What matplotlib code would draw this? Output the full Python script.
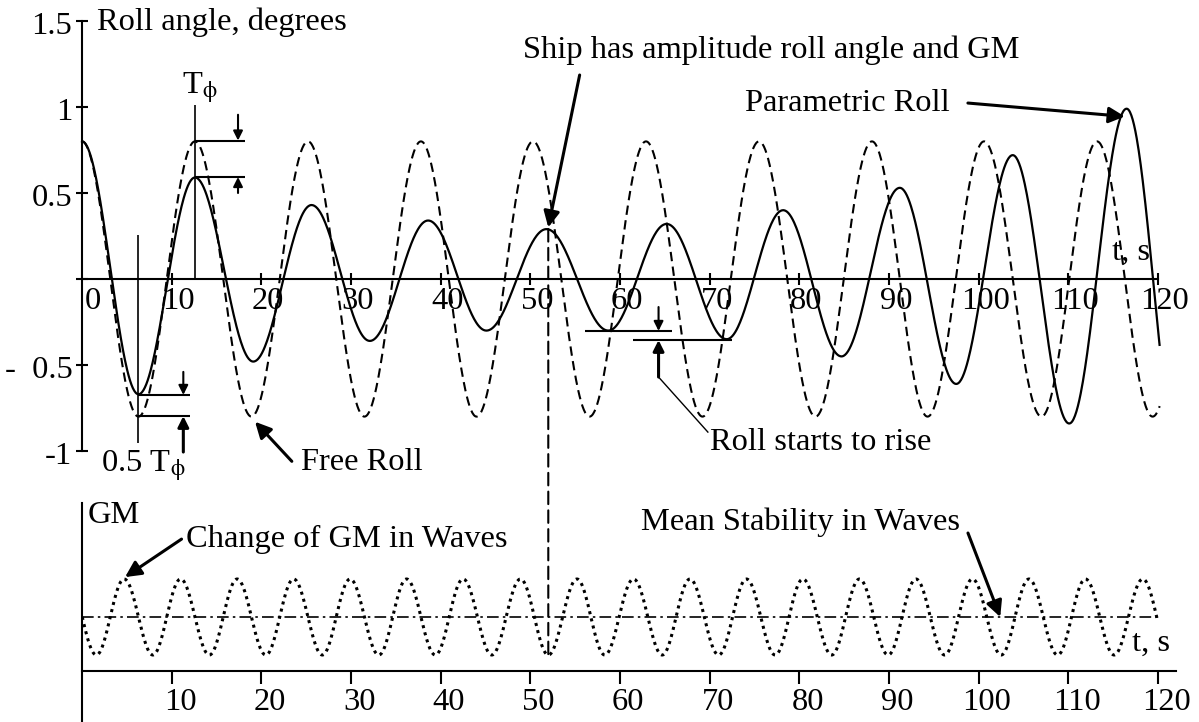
import numpy as np
import matplotlib
matplotlib.use("Agg")
import matplotlib.pyplot as plt
from matplotlib.patches import ConnectionPatch

plt.rcParams['font.family'] = ['Liberation Serif', 'DejaVu Serif']
plt.rcParams['mathtext.fontset'] = 'stix'

# ---------------- data ----------------
# parametric roll: times / values of successive extrema (last one lies beyond the drawn end)
roll_ext_t = [0.0, 6.3, 12.6, 19.1, 25.6, 32.1, 38.6, 45.1, 51.8, 58.7, 65.2,
              71.9, 78.2, 84.7, 91.2, 97.5, 103.8, 110.1, 116.5, 122.5]
roll_ext_v = [0.80, -0.67, 0.59, -0.48, 0.43, -0.36, 0.34, -0.30, 0.29, -0.30, 0.32,
              -0.35, 0.40, -0.45, 0.53, -0.61, 0.72, -0.84, 0.99, -1.05]
roll_t_end = 120.2

# free roll extrema
free_ext_t = [0.0, 6.3, 12.6, 18.9, 25.2, 31.5, 37.8, 44.0, 50.3, 56.6, 62.9,
              69.2, 75.5, 81.8, 88.1, 94.3, 100.6, 107.0, 113.2, 119.4, 125.7]
free_ext_v = [0.8, -0.8, 0.8, -0.8, 0.8, -0.8, 0.8, -0.8, 0.8, -0.8, 0.8,
              -0.8, 0.8, -0.8, 0.8, -0.8, 0.8, -0.8, 0.8, -0.8, 0.8]
free_t_end = 120.2

# GM in waves extrema (relative to mean, arbitrary units)
gm_ext_t = [-1.55, 1.6, 4.7, 7.9, 11.0, 14.2, 17.3, 20.5, 23.6, 26.8, 29.9, 33.1,
            36.2, 39.4, 42.5, 45.7, 48.9, 52.0, 55.2, 58.3, 61.5, 64.7, 67.8, 71.0,
            74.1, 77.3, 80.4, 83.6, 86.7, 89.9, 93.0, 96.2, 99.3, 102.5, 105.6,
            108.8, 111.9, 115.1, 118.3, 121.4]
gm_ext_v = [1, -1, 1, -1, 1, -1, 1, -1, 1, -1, 1, -1, 1, -1, 1, -1, 1, -1, 1, -1,
            1, -1, 1, -1, 1, -1, 1, -1, 1, -1, 1, -1, 1, -1, 1, -1, 1, -1, 1, -1]
gm_mean = 0.0
gm_t_end = 120.0

event_t = 52.0          # instant marked by the dashed vertical line
event_idx = 8           # roll extremum at that instant

x_ticks = [10, 20, 30, 40, 50, 60, 70, 80, 90, 100, 110, 120]
x_tick_labels_top = ['0', '10', '20', '30', '40', '50', '60', '70', '80', '90', '100', '110', '120']
x_tick_pos_top = [0, 10, 20, 30, 40, 50, 60, 70, 80, 90, 100, 110, 120]
y_ticks = [-1, -0.5, 0, 0.5, 1, 1.5]
y_tick_labels = ['-1', '-  0.5', '', '0.5', '1', '1.5']


def shaped(ext_t, ext_v, t0, t1, n=80):
    ts, vs = [], []
    for i in range(len(ext_t) - 1):
        s = np.linspace(0, 1, n, endpoint=False)
        ts.append(ext_t[i] + (ext_t[i + 1] - ext_t[i]) * s)
        vs.append(ext_v[i] + (ext_v[i + 1] - ext_v[i]) * (1 - np.cos(np.pi * s)) / 2)
    t = np.concatenate(ts)
    v = np.concatenate(vs)
    m = (t >= t0) & (t <= t1)
    return t[m], v[m]


W, H = 1199, 722
fig = plt.figure(figsize=(W / 100, H / 100), dpi=100)
FS = 23.4
LW = 1.5
PHI = r'$_{\mathrm{\phi}}$'

# ---------------- top panel ----------------
ax1 = fig.add_axes([82 / W, 271 / H, 1076 / W, 430 / H])
ax1.set_xlim(0, 120)
ax1.set_ylim(-1, 1.5)
for s in ['top', 'right']:
    ax1.spines[s].set_visible(False)
ax1.spines['bottom'].set_position(('data', 0))
ax1.spines['bottom'].set_linewidth(LW)
ax1.spines['left'].set_linewidth(LW)
ax1.set_xticks(x_ticks)
ax1.set_yticks(y_ticks)
ax1.tick_params(direction='inout', length=9, width=LW, labelbottom=False, labelleft=False)
ax1.patch.set_visible(False)

for xp, lab in zip(x_tick_pos_top, x_tick_labels_top):
    dx = 8 if xp == 0 else 5
    ax1.annotate(lab, (xp, 0), xytext=(dx, -16), textcoords='offset points',
                 ha='center', va='center', fontsize=FS)
for yp, lab in zip(y_ticks, y_tick_labels):
    if lab:
        ax1.annotate(lab, (0, yp), xytext=(-7, -4), textcoords='offset points',
                     ha='right', va='center', fontsize=FS)

tf, vf = shaped(free_ext_t, free_ext_v, 0, free_t_end)
ax1.plot(tf, vf, color='black', lw=1.5, ls=(0, (4.5, 2.6)), clip_on=False)
tr, vr = shaped(roll_ext_t, roll_ext_v, 0, roll_t_end)
ax1.plot(tr, vr, color='black', lw=1.6, clip_on=False)

ax1.text(1.7, 1.494, 'Roll angle, degrees', fontsize=FS, ha='left', va='center')

arrow_small = dict(arrowstyle='-|>', color='black', lw=1.5, mutation_scale=14,
                   shrinkA=0, shrinkB=0)
arrow_big = dict(arrowstyle='-|>', color='black', lw=2.2, mutation_scale=24,
                 shrinkA=0, shrinkB=0)

# T_phi marks
ax1.text(11.2, 1.11, 'T' + PHI, fontsize=FS, ha='left', va='center')
ax1.vlines(12.6, 0, 1.01, color='black', lw=1.2)
ax1.hlines([0.805, 0.593], 12.6, 18.2, color='black', lw=1.5)
ax1.annotate('', xy=(17.4, 0.805), xytext=(17.4, 0.955), arrowprops=arrow_small)
ax1.annotate('', xy=(17.4, 0.593), xytext=(17.4, 0.50), arrowprops=arrow_small)

# 0.5 T_phi marks
ax1.vlines(6.3, -0.953, 0.256, color='black', lw=1.2)
ax1.hlines([-0.674, -0.797], 6.3, 12.0, color='black', lw=1.5)
ax1.annotate('', xy=(11.3, -0.674), xytext=(11.3, -0.54), arrowprops=arrow_small)
ax1.annotate('', xy=(11.3, -0.797), xytext=(11.3, -1.006),
             arrowprops=dict(arrowstyle='-|>', color='black', lw=2.2, mutation_scale=16,
                             shrinkA=0, shrinkB=0))
ax1.text(2.1, -1.085, '0.5 T' + PHI, fontsize=FS, ha='left', va='center')

# Free roll
ax1.text(24.4, -1.064, 'Free Roll', fontsize=FS, ha='left', va='center')
ax1.annotate('', xy=(19.3, -0.83), xytext=(23.4, -1.06), arrowprops=arrow_big)

# Ship has amplitude roll angle and GM
ax1.text(49.2, 1.331, 'Ship has amplitude roll angle and GM', fontsize=FS,
         ha='left', va='center')
ax1.annotate('', xy=(roll_ext_t[event_idx] + 0.2, roll_ext_v[event_idx] + 0.01),
             xytext=(55.5, 1.186), arrowprops=arrow_big)

# Parametric roll
ax1.text(73.9, 1.023, 'Parametric Roll', fontsize=FS, ha='left', va='center')
ax1.annotate('', xy=(116.3, 0.945), xytext=(98.8, 1.023), arrowprops=arrow_big)

ax1.text(114.9, 0.157, 't, s', fontsize=FS, ha='left', va='center')

# Roll starts to rise
ax1.hlines(-0.302, 56.1, 65.8, color='black', lw=1.5)
ax1.hlines(-0.355, 61.4, 72.5, color='black', lw=1.5)
ax1.annotate('', xy=(64.3, -0.302), xytext=(64.3, -0.163), arrowprops=arrow_small)
ax1.annotate('', xy=(64.3, -0.355), xytext=(64.3, -0.57),
             arrowprops=dict(arrowstyle='-|>', color='black', lw=2.2, mutation_scale=16,
                             shrinkA=0, shrinkB=0))
ax1.plot([64.3, 69.8], [-0.57, -0.89], color='black', lw=1.0)
ax1.text(70.0, -0.948, 'Roll starts to rise', fontsize=FS, ha='left', va='center')

# ---------------- bottom panel ----------------
ax2 = fig.add_axes([82 / W, 0, 1094 / W, 219 / H])
ax2.set_xlim(0, 122)
ax2.set_ylim(-2.763, 3.0)
for s in ['top', 'right']:
    ax2.spines[s].set_visible(False)
ax2.spines['bottom'].set_position(('data', -1.421))
ax2.spines['bottom'].set_linewidth(LW)
ax2.spines['left'].set_linewidth(LW)
ax2.set_xticks(x_ticks)
ax2.set_yticks([])
ax2.tick_params(axis='x', direction='out', length=9, width=LW, labelbottom=False)
ax2.patch.set_visible(False)
for xp in x_ticks:
    ax2.annotate(str(xp), (xp, -1.421), xytext=(6, -23), textcoords='offset points',
                 ha='center', va='center', fontsize=FS)

tg, vg = shaped(gm_ext_t, gm_ext_v, 0, gm_t_end)
ax2.plot(tg, vg, color='black', lw=2.2, ls=(0, (1, 1.4)), solid_capstyle='butt',
         dash_capstyle='butt')
ax2.hlines(gm_mean, 0, gm_t_end, color='black', lw=1.2, linestyles=[(0, (7, 2.5, 1.5, 2.5))])

ax2.text(0.6, 2.66, 'GM', fontsize=FS, ha='left', va='center')
ax2.text(11.6, 2.05, 'Change of GM in Waves', fontsize=FS, ha='left', va='center')
ax2.annotate('', xy=(4.8, 1.05), xytext=(11.1, 2.05), arrowprops=arrow_big)
ax2.text(62.3, 2.5, 'Mean Stability in Waves', fontsize=FS, ha='left', va='center')
ax2.annotate('', xy=(102.4, gm_mean), xytext=(98.8, 2.21), arrowprops=arrow_big)
ax2.text(117.1, -0.68, 't, s', fontsize=FS, ha='left', va='center')

# dashed connector between panels
con = ConnectionPatch(xyA=(event_t, roll_ext_v[event_idx]), coordsA=ax1.transData,
                      xyB=(event_t, -1.0), coordsB=ax2.transData,
                      color='black', lw=1.5, linestyle=(0, (6, 3)))
fig.add_artist(con)

fig.savefig('out.png', dpi=100)
